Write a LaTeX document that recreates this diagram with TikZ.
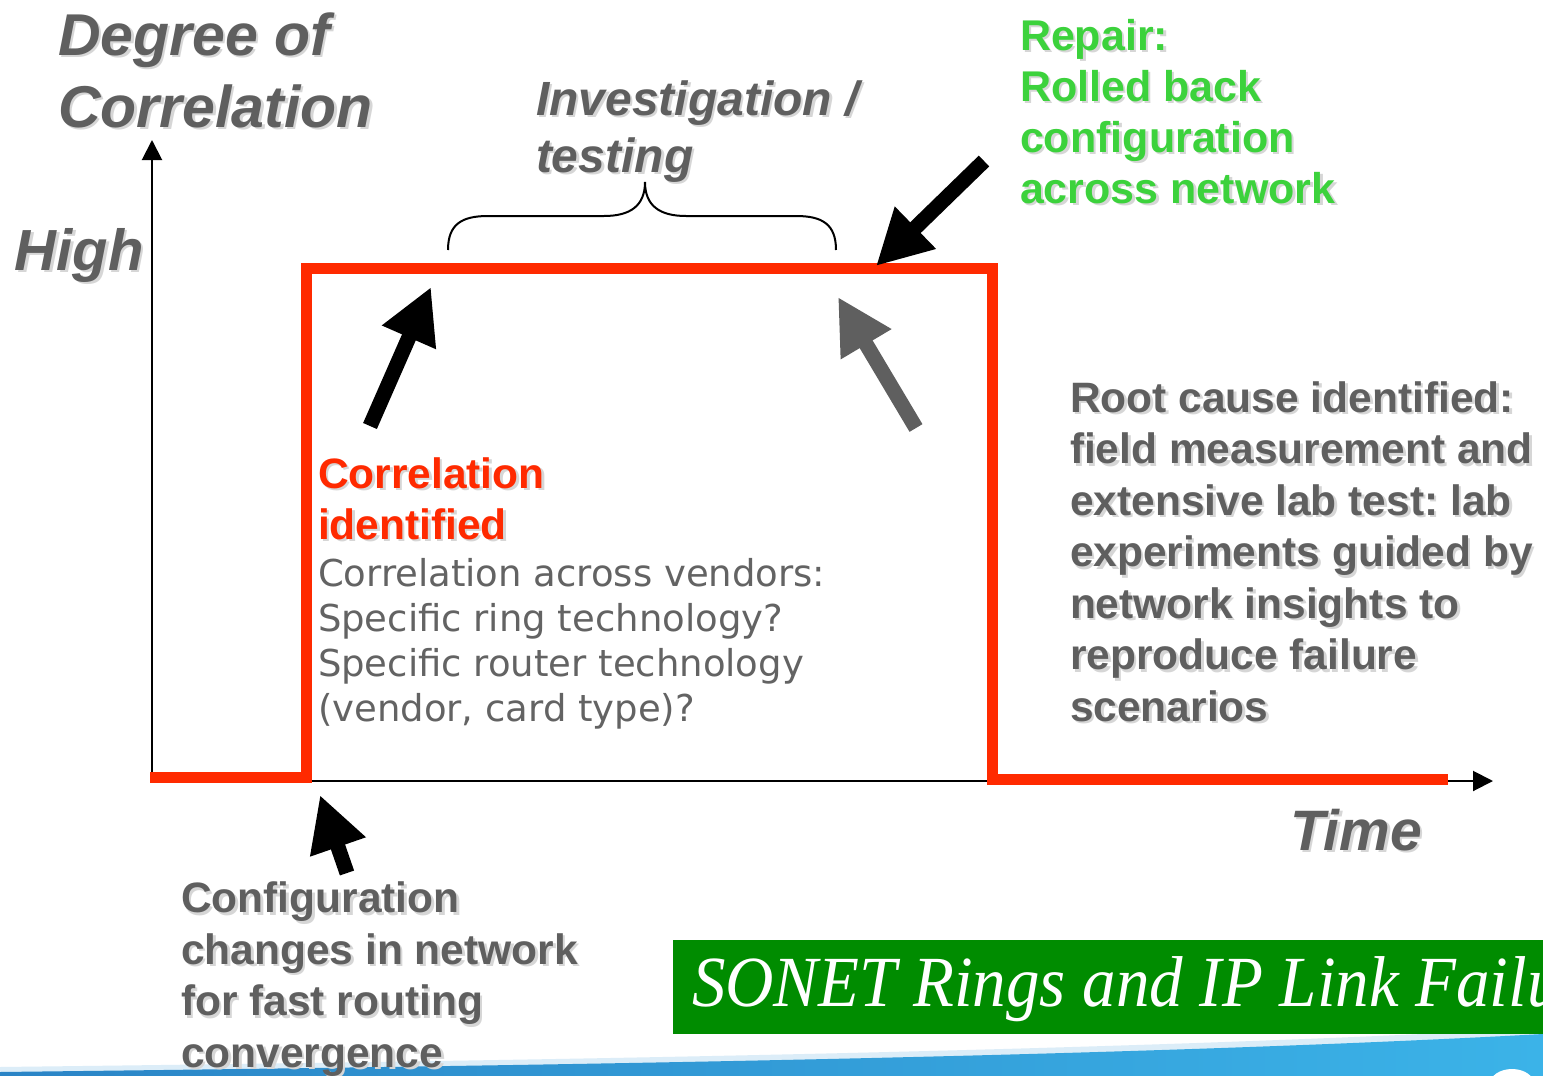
\documentclass[tikz,border=0pt]{standalone}
\usepackage{fontspec}
\usetikzlibrary{arrows.meta}
\frenchspacing
\newfontfamily\arialfont{Liberation Sans}
\newfontfamily\verdfont{DejaVu Sans}
\newfontfamily\seriffont[FakeStretch=0.93]{Liberation Serif}
\definecolor{txtgray}{HTML}{5F5F5F}
\definecolor{descgray}{HTML}{636363}
\definecolor{shgray}{HTML}{D6D6D6}
\definecolor{stepred}{HTML}{FF2A00}
\definecolor{repgreen}{HTML}{3CD23C}
\definecolor{bannergreen}{HTML}{008C00}
\definecolor{arrowgray}{HTML}{5F5F5F}
\definecolor{swooshL}{HTML}{2A84C6}
\definecolor{swooshR}{HTML}{3BB3E8}
\definecolor{haze}{HTML}{DCEDF8}

% text drawn with a soft drop shadow below and to the right;
% the given point is the start of the LAST line's baseline
\newcommand\shtext[4]{%
  \node[#3, text=shgray, xshift=2.5pt, yshift=-2.5pt] at (#2) {#4};
  \node[#3] (#1) at (#2) {#4};}

\tikzset{
  lbl/.style={inner sep=0pt, outer sep=0pt, anchor=base west, align=left},
  axislabel/.style 2 args={lbl, text=txtgray, font=\arialfont\bfseries\itshape\fontsize{#1}{#2}\selectfont},
  boldgray/.style={lbl, text=txtgray, font=\arialfont\bfseries\fontsize{42.5}{51.5}\selectfont},
  boldred/.style={lbl, text=stepred, font=\arialfont\bfseries\fontsize{42.5}{51}\selectfont},
  boldgreen/.style={lbl, text=repgreen, font=\arialfont\bfseries\fontsize{43}{51}\selectfont},
  plaingray/.style={lbl, text=descgray, font=\verdfont\fontsize{37}{44.7}\selectfont},
  axisline/.style={line width=2pt, -{Triangle[length=20pt,width=20pt]}},
  blockarrow/.style={line width=15pt, -{Triangle[length=55pt,width=55pt]}},
  stepline/.style={stepred, line width=11pt, line join=miter},
  bracket/.style={line width=2pt},
}

\begin{document}
\begin{tikzpicture}[x=1pt,y=-1pt]
\useasboundingbox (0,0) rectangle (1543,1076);
\clip (0,0) rectangle (1543,1076);
\fill[white] (0,0) rectangle (1543,1076);

% bottom swoosh
\fill[haze] (0,1076) -- (0,1067) .. controls (500,1061) and (1100,1052) .. (1543,1028) -- (1543,1076) -- cycle;
\shade[left color=swooshL, right color=swooshR]
  (0,1076) -- (0,1072) .. controls (500,1066) and (1100,1058) .. (1543,1034) -- (1543,1076) -- cycle;
\fill[white] (1512,1084) ellipse (22 and 15);

% axes
\coordinate (origin) at (152,781);
\coordinate (ytop) at (152,140);
\coordinate (xend) at (1493,781);
\draw[axisline] (152,782) -- (ytop);
\draw[axisline] (150,781) -- (xend);

% correlation step
\draw[stepline] (150,777) -- (306,777) -- (306,268) -- (992,268) -- (992,779) -- (1448,779);

% brace over the investigation period
\coordinate (bl) at (448,250);
\coordinate (bt) at (645,182);
\coordinate (br) at (836,250);
\draw[bracket] (bl) .. controls (448,224) and (462,216) .. (488,216) -- (604,216)
  .. controls (630,216) and (645,206) .. (bt)
  .. controls (645,206) and (660,216) .. (686,216) -- (796,216)
  .. controls (822,216) and (836,224) .. (br);

% block arrows
\coordinate (a1tail) at (370,426);  \coordinate (a1tip) at (431,287);
\coordinate (a2tail) at (916,428);  \coordinate (a2tip) at (838,297);
\coordinate (a3tail) at (984,161);  \coordinate (a3tip) at (876,266);
\coordinate (a4tail) at (347,873);  \coordinate (a4tip) at (320,795);
\draw[blockarrow, black] (a1tail) -- (a1tip);
\draw[blockarrow, arrowgray] (a2tail) -- (a2tip);
\draw[blockarrow, black] (a3tail) -- (a3tip);
\draw[blockarrow, black] (a4tail) -- (a4tip);

% labels
\shtext{degree}{58,127}{axislabel={59}{72}}{Degree of\\Correlation}
\shtext{high}{15,270}{axislabel={58}{70}}{High}
\shtext{time}{1290,850}{axislabel={57}{70}}{Time}
\shtext{invest}{536,172}{axislabel={48}{57}}{Investigation /\\testing}
\shtext{repair}{1020,203}{boldgreen}{Repair:\\Rolled back\\configuration\\across network}
\shtext{rootcause}{1070,721}{boldgray}{Root cause identified:\\field measurement and\\extensive lab test: lab\\experiments guided by\\network insights to\\reproduce failure\\scenarios}
\shtext{corrid}{318,539}{boldred}{Correlation\\identified}
\node[plaingray] (corrdesc) at (318,721) {Correlation across vendors:\\Specific ring technology?\\Specific router technology\\(vendor, card type)?};
\shtext{config}{181,1067}{boldgray}{Configuration\\changes in network\\for fast routing\\convergence}

% title banner
\fill[bannergreen] (673,940) rectangle (1560,1034);
\node[lbl, text=white, font=\seriffont\itshape\fontsize{72}{80}\selectfont] (banner) at (692,1006) {SONET Rings and IP Link Failures};
\end{tikzpicture}
\end{document}
